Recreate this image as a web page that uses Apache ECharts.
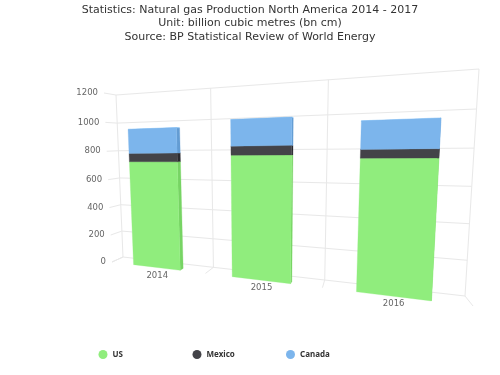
<!DOCTYPE html>
<html>
<head>
<meta charset="utf-8">
<style>
  html, body { margin: 0; padding: 0; background: #fff; }
  #chart { width: 500px; height: 375px; }
</style>
<script src="https://cdn.jsdelivr.net/npm/echarts@6/dist/echarts.min.js"></script>
</head>
<body>
<div id="chart"></div>
<script>
const years = ['2014', '2015', '2016']
const usValues = [727, 768, 749]
const mexicoValues = [57, 55, 47]
const canadaValues = [163, 160, 152]
const yTicks = [0, 200, 400, 600, 800, 1000, 1200]
const xTicks = [0, 1, 2, 3]

const colors = { US: '#90ed7d', Mexico: '#434348', Canada: '#7cb5ec' }
const sideColors = { US: '#77d464', Mexico: '#2a2a2f', Canada: '#639cd3' }
const topColors = { US: '#a9ff96', Mexico: '#5c5c61', Canada: '#95ceff' }

// hidden flat grid, its pixels are then projected on the 3d planes
const grid = { left: 100, top: 60, width: 300, height: 240 }

// plot rectangle corners on screen: bottom-left, bottom-right, top-right, top-left
const frontQuad = [[112, 262], [473, 306], [489, 62], [104, 93]]
const backQuad = [[123, 257], [465, 296], [479, 69], [116, 95]]
const barDepth = 0.33

// unit square -> quad (projective)
function makeHomography(q) {
  const [p0, p1, p2, p3] = q
  const dx1 = p1[0] - p2[0], dx2 = p3[0] - p2[0], sx = p0[0] - p1[0] + p2[0] - p3[0]
  const dy1 = p1[1] - p2[1], dy2 = p3[1] - p2[1], sy = p0[1] - p1[1] + p2[1] - p3[1]
  const det = dx1 * dy2 - dx2 * dy1
  const g = (sx * dy2 - dx2 * sy) / det
  const h = (dx1 * sy - sx * dy1) / det
  const a = p1[0] - p0[0] + g * p1[0], b = p3[0] - p0[0] + h * p3[0]
  const d = p1[1] - p0[1] + g * p1[1], e = p3[1] - p0[1] + h * p3[1]
  return (s, t) => {
    const w = g * s + h * t + 1
    return [(a * s + b * t + p0[0]) / w, (d * s + e * t + p0[1]) / w]
  }
}
const front = makeHomography(frontQuad)
const back = makeHomography(backQuad)

// flat pixel -> point at a depth (0 front, 1 back wall)
function project(px, py, depth) {
  const s = (px - grid.left) / grid.width
  const t = (grid.top + grid.height - py) / grid.height
  const f = front(s, t), b = back(s, t)
  return [f[0] + (b[0] - f[0]) * depth, f[1] + (b[1] - f[1]) * depth]
}

function wallLine(a, b) {
  return {
    type: 'line',
    shape: { x1: a[0], y1: a[1], x2: b[0], y2: b[1] },
    style: { stroke: '#e8e8e8', lineWidth: 1, fill: null }
  }
}

function renderValueTick(params, api) {
  const left = api.coord([0, api.value(1)])
  const x0 = grid.left, x1 = grid.left + grid.width
  const a = project(x0, left[1], 1)
  const b = project(x1, left[1], 1)
  const stub = project(x0, left[1], 0)
  return {
    type: 'group',
    children: [
      wallLine(a, b),
      wallLine(stub, a),
      {
        type: 'text',
        style: {
          x: stub[0] - 6, y: stub[1], text: String(api.value(1)),
          fill: '#666', font: '8.5px "DejaVu Sans"', align: 'right', verticalAlign: 'middle'
        }
      }
    ]
  }
}

function renderCategoryTick(params, api) {
  const px = grid.left + grid.width * api.value(0) / years.length
  const y0 = grid.top + grid.height
  const a = project(px, grid.top, 1)
  const b = project(px, y0, 1)
  const stub = project(px, y0, 0)
  const children = [wallLine(a, b), wallLine(b, stub)]
  if (api.value(0) < years.length) {
    const c = project(px + grid.width / years.length / 2, y0, 0)
    children.push({
      type: 'text',
      style: {
        x: c[0] + 1, y: c[1] + 8, text: years[api.value(0)],
        fill: '#666', font: '8.5px "DejaVu Sans"', align: 'center', verticalAlign: 'middle'
      }
    })
  }
  return { type: 'group', children: children }
}

function poly(points, fill) {
  return { type: 'polygon', shape: { points: points }, style: { fill: fill, stroke: fill, lineWidth: 0.3 } }
}

// one stacked segment as front, right side and top
function barRenderer(name, baseValues) {
  return function (params, api) {
    const i = api.value(0)
    const base = baseValues[i]
    const p0 = api.coord([i, base])
    const p1 = api.coord([i, base + api.value(1)])
    const half = api.size([1, 0])[0] * 0.25
    const xl = p0[0] - half, xr = p0[0] + half
    const fbl = project(xl, p0[1], 0), fbr = project(xr, p0[1], 0)
    const ftl = project(xl, p1[1], 0), ftr = project(xr, p1[1], 0)
    const bbr = project(xr, p0[1], barDepth)
    const btl = project(xl, p1[1], barDepth), btr = project(xr, p1[1], barDepth)
    return {
      type: 'group',
      children: [
        poly([fbr, bbr, btr, ftr], sideColors[name]),
        poly([ftl, ftr, btr, btl], topColors[name]),
        poly([fbl, fbr, ftr, ftl], colors[name])
      ]
    }
  }
}

function rows(values) {
  return values.map((v, i) => [i, v])
}

const usBase = years.map(() => 0)
const mexicoBase = usValues.slice()
const canadaBase = usValues.map((v, i) => v + mexicoValues[i])

function legendItem(name, left) {
  return {
    data: [name], left: left, top: 345, icon: 'circle', itemWidth: 9, itemHeight: 9, itemGap: 4,
    selectedMode: false,
    textStyle: { color: '#333', fontSize: 8, fontWeight: 'bold', fontFamily: '"Noto Sans"' }
  }
}

const chart = echarts.init(document.getElementById('chart'), null, { width: 500, height: 375 })
chart.setOption({
  animation: false,
  backgroundColor: '#fff',
  title: {
    text: 'Statistics: Natural gas Production North America 2014 - 2017\nUnit: billion cubic metres (bn cm)\nSource: BP Statistical Review of World Energy',
    left: 'center',
    top: 3,
    padding: 0,
    textStyle: { color: '#333', fontSize: 11, fontWeight: 'normal', lineHeight: 13.5, fontFamily: '"DejaVu Sans"' }
  },
  legend: [legendItem('US', 93.5), legendItem('Mexico', 187.5), legendItem('Canada', 281)],
  grid: grid,
  xAxis: { type: 'category', data: years, show: false },
  yAxis: { type: 'value', min: 0, max: 1200, interval: 200, show: false },
  series: [
    { type: 'custom', name: 'valueTicks', renderItem: renderValueTick, silent: true, data: yTicks.map(v => [0, v]), encode: { x: 0, y: 1 } },
    { type: 'custom', name: 'categoryTicks', renderItem: renderCategoryTick, silent: true, data: xTicks.map(v => [v, 0]), encode: { y: 1 } },
    { type: 'custom', name: 'US', itemStyle: { color: colors.US }, renderItem: barRenderer('US', usBase), data: rows(usValues), encode: { x: 0, y: 1 } },
    { type: 'custom', name: 'Mexico', itemStyle: { color: colors.Mexico }, renderItem: barRenderer('Mexico', mexicoBase), data: rows(mexicoValues), encode: { x: 0, y: 1 } },
    { type: 'custom', name: 'Canada', itemStyle: { color: colors.Canada }, renderItem: barRenderer('Canada', canadaBase), data: rows(canadaValues), encode: { x: 0, y: 1 } }
  ]
})
</script>
</body>
</html>
